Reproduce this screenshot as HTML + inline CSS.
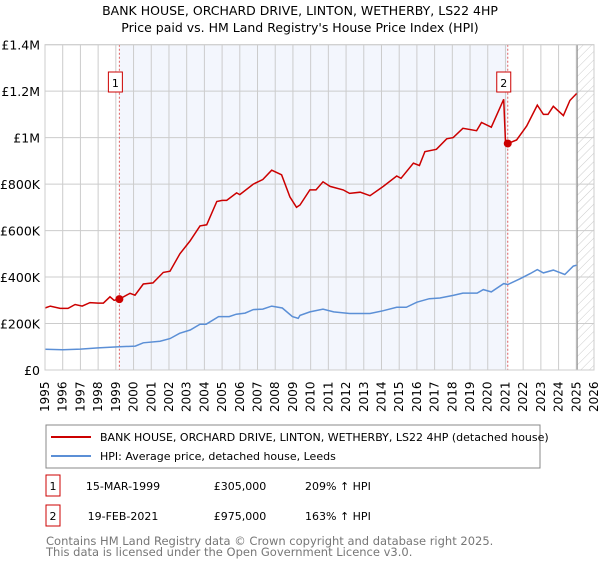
<!DOCTYPE html>
<html><head><meta charset="utf-8"><style>
body{margin:0;background:#fff;font-family:"Liberation Sans","DejaVu Sans",sans-serif;}
svg text{font-family:"DejaVu Sans","Liberation Sans",sans-serif;}
</style></head><body>
<svg id="c" width="600" height="560" xmlns="http://www.w3.org/2000/svg">
<defs><pattern id="hatch" width="6" height="6" patternUnits="userSpaceOnUse" patternTransform="rotate(45)"><line x1="0" y1="0" x2="0" y2="6" stroke="#ccc" stroke-width="1"/></pattern></defs>
<text x="300" y="15" text-anchor="middle" font-size="12.5" fill="#000">BANK HOUSE, ORCHARD DRIVE, LINTON, WETHERBY, LS22 4HP</text>
<text x="300" y="32" text-anchor="middle" font-size="12.5" fill="#000">Price paid vs. HM Land Registry's House Price Index (HPI)</text>
<g id="plot"></g>
<rect x="46" y="425" width="494" height="43" fill="#fff" stroke="#888"/>
<line x1="51" y1="437" x2="91" y2="437" stroke="#cc0000" stroke-width="2"/>
<text x="100" y="441" font-size="11">BANK HOUSE, ORCHARD DRIVE, LINTON, WETHERBY, LS22 4HP (detached house)</text>
<line x1="51" y1="456" x2="91" y2="456" stroke="#5b8fd6" stroke-width="2"/>
<text x="100" y="460" font-size="11">HPI: Average price, detached house, Leeds</text>
<g>
<rect x="46" y="475" width="14" height="21" fill="#fff" stroke="#cc0000"/>
<text x="53" y="490" text-anchor="middle" font-size="11">1</text>
<text x="123" y="490" text-anchor="middle" font-size="11">15-MAR-1999</text>
<text x="240" y="490" text-anchor="middle" font-size="11">£305,000</text>
<text x="305" y="490" font-size="11">209% ↑ HPI</text></g>
<g>
<rect x="46" y="505" width="14" height="21" fill="#fff" stroke="#cc0000"/>
<text x="53" y="520" text-anchor="middle" font-size="11">2</text>
<text x="123" y="520" text-anchor="middle" font-size="11">19-FEB-2021</text>
<text x="240" y="520" text-anchor="middle" font-size="11">£975,000</text>
<text x="305" y="520" font-size="11">163% ↑ HPI</text></g>
<text x="46" y="545" font-size="11.5" fill="#777">Contains HM Land Registry data © Crown copyright and database right 2025.</text>
<text x="46" y="556" font-size="11.5" fill="#777">This data is licensed under the Open Government Licence v3.0.</text>
</svg>
<script>
const yTicks=[0,200000,400000,600000,800000,1000000,1200000,1400000];
const yTickLabels=["£0","£200K","£400K","£600K","£800K","£1M","£1.2M","£1.4M"];
const years=[1995,1996,1997,1998,1999,2000,2001,2002,2003,2004,2005,2006,2007,2008,2009,2010,2011,2012,2013,2014,2015,2016,2017,2018,2019,2020,2021,2022,2023,2024,2025,2026];
const propT=[1995.0,1995.3,1995.85,1996.3,1996.7,1997.1,1997.54,1998.0,1998.3,1998.67,1998.9,1999.2,1999.8,2000.08,2000.55,2001.1,2001.68,2002.06,2002.62,2003.19,2003.75,2004.13,2004.7,2005.0,2005.26,2005.82,2006.0,2006.76,2007.3,2007.8,2008.36,2008.83,2009.2,2009.4,2009.96,2010.3,2010.7,2011.1,2011.84,2012.2,2012.8,2013.35,2014.1,2014.86,2015.1,2015.8,2016.14,2016.45,2017.1,2017.68,2018.05,2018.6,2019.37,2019.65,2020.2,2020.9,2021.0,2021.13,2021.63,2022.2,2022.8,2023.14,2023.4,2023.7,2024.27,2024.64,2025.02];
const propV=[267000,275000,265000,265000,282000,275000,290000,288000,288000,315000,300000,305000,330000,322000,370000,375000,420000,425000,500000,555000,620000,625000,725000,730000,730000,762000,755000,800000,820000,860000,840000,745000,700000,710000,775000,775000,810000,790000,775000,760000,765000,750000,790000,835000,825000,890000,880000,940000,950000,995000,1000000,1040000,1030000,1065000,1045000,1165000,980000,975000,990000,1050000,1140000,1100000,1100000,1135000,1095000,1160000,1190000];
const hpiT=[1995.0,1996.0,1997.0,1998.0,1999.2,2000.1,2000.55,2001.5,2002.06,2002.6,2003.2,2003.75,2004.1,2004.8,2005.4,2005.8,2006.3,2006.76,2007.3,2007.8,2008.4,2008.97,2009.3,2009.4,2009.96,2010.7,2011.3,2012.2,2013.35,2014.1,2014.86,2015.4,2016.0,2016.7,2017.3,2018.05,2018.6,2019.4,2019.75,2020.2,2020.9,2021.13,2021.83,2022.4,2022.8,2023.14,2023.7,2024.35,2024.83,2025.02];
const hpiV=[89000,87000,90000,95000,100000,103000,117000,124000,135000,158000,172000,197000,197000,230000,230000,240000,245000,260000,262000,275000,267000,230000,222000,235000,250000,262000,250000,243000,243000,255000,270000,270000,292000,307000,310000,321000,331000,331000,346000,336000,372000,368000,393000,415000,432000,418000,430000,411000,447000,451000];
const saleT=[1999.2,2021.13];
const saleV=[305000,975000];
const saleLabels=["1","2"];
const dataEnd=2025.05;

const X0=45,X1=594,Y0=370,Y1=44.7,T0=1995,T1=2026,VMAX=1400000;
const xs=t=>X0+(t-T0)/(T1-T0)*(X1-X0);
const ys=v=>Y0-v/VMAX*(Y0-Y1);
const NS="http://www.w3.org/2000/svg";
const g=document.getElementById('plot');
function mk(tag,attrs,parent){const e=document.createElementNS(NS,tag);for(const k in attrs)e.setAttribute(k,attrs[k]);(parent||g).appendChild(e);return e;}

let e;
e=mk('rect',{x:xs(saleT[0]),y:Y1,width:xs(saleT[1])-xs(saleT[0]),height:Y0-Y1,fill:'#f3f6fd'});


e=mk('rect',{x:xs(dataEnd),y:Y1,width:X1-xs(dataEnd),height:Y0-Y1,fill:'url(#hatch)'});


years.forEach(y=>{
  e=mk('line',{x1:xs(y),x2:xs(y),y1:Y1,y2:Y0,stroke:'#ccc','stroke-width':1});
  
  
  e=mk('text',{transform:`translate(${xs(y)+4},${Y0+42}) rotate(-90)`,'font-size':12});
  e.textContent=y;
  
  
});
yTicks.forEach((v,i)=>{
  e=mk('line',{x1:X0,x2:X1,y1:ys(v),y2:ys(v),stroke:'#ccc','stroke-width':1});
  
  
  e=mk('text',{x:40,y:ys(v)+5,'text-anchor':'end','font-size':12.5});
  e.textContent=yTickLabels[i];
  
  
});
e=mk('line',{x1:xs(dataEnd),x2:xs(dataEnd),y1:Y1,y2:Y0,stroke:'#888','stroke-width':1});


saleT.forEach((t,i)=>{
  e=mk('line',{x1:xs(t),x2:xs(t),y1:Y1,y2:Y0,stroke:'#e06060','stroke-width':1,'stroke-dasharray':'2,2'});
  
  
});
function pts(T,V){return T.map((t,i)=>xs(t).toFixed(1)+','+ys(V[i]).toFixed(1)).join(' ');}
e=mk('polyline',{points:pts(hpiT,hpiV),fill:'none',stroke:'#5b8fd6','stroke-width':1.5});


e=mk('polyline',{points:pts(propT,propV),fill:'none',stroke:'#cc0000','stroke-width':1.5});


saleT.forEach((t,i)=>{
  e=mk('circle',{cx:xs(t),cy:ys(saleV[i]),r:4,fill:'#cc0000'});
  
  
  e=mk('rect',{x:xs(t)-11,y:72,width:14,height:20,fill:'#fff',stroke:'#cc0000'});
  
  
  e=mk('text',{x:xs(t)-4,y:87,'text-anchor':'middle','font-size':11});
  e.textContent=saleLabels[i];
  
  
});
e=mk('rect',{x:X0,y:Y1,width:X1-X0,height:Y0-Y1,fill:'none',stroke:'#ccc'});


</script>
</body></html>
